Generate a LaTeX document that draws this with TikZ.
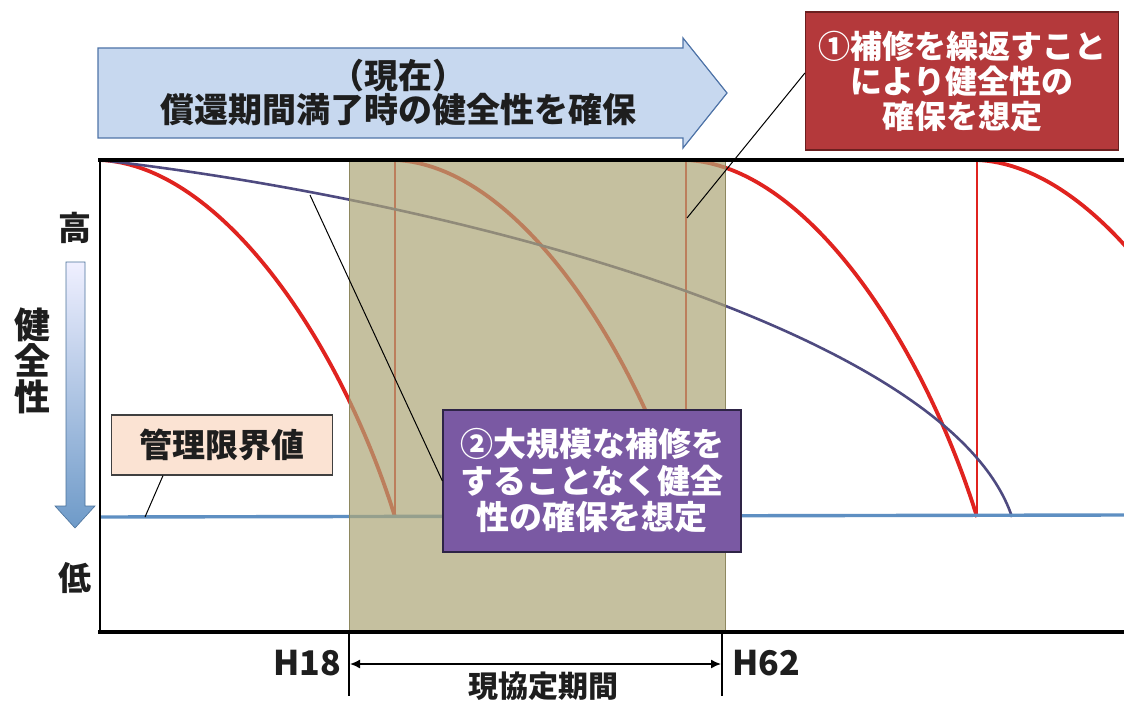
\documentclass[tikz,border=0pt]{standalone}
\usepackage{fontspec}
\newfontfamily\jp{Noto Sans CJK JP}
\usetikzlibrary{arrows.meta}
\definecolor{redline}{HTML}{E0231F}
\definecolor{purline}{HTML}{4E4A80}
\definecolor{limitc}{HTML}{5E8FC2}
\definecolor{shadec}{HTML}{ADA677}
\definecolor{shadeb}{HTML}{8E8860}
\definecolor{redboxc}{HTML}{B4393B}
\definecolor{redboxb}{HTML}{6B1F1F}
\definecolor{purboxc}{HTML}{7A59A3}
\definecolor{purboxb}{HTML}{2E2446}
\definecolor{limboxc}{HTML}{FBE3D3}
\definecolor{arrowc}{HTML}{C7D8EF}
\definecolor{arrowb}{HTML}{4F74A8}
\definecolor{textc}{HTML}{1E1E1E}
\tikzset{
  redc/.style={draw=redline, line width=3.8pt},
  redv/.style={draw=redline, line width=2.2pt},
  purc/.style={draw=purline, line width=2.6pt},
  limitl/.style={draw=limitc, line width=3.4pt},
  frame/.style={draw=black, line width=3.5pt},
  lead/.style={draw=black, line width=1pt},
  jtext/.style={font={\jp\bfseries\fontsize{33}{36}\selectfont}, text=textc, align=center, inner sep=0pt},
  redbox/.style={draw=redboxb, line width=1.2pt, fill=redboxc, text=white, font={\jp\bfseries\fontsize{32}{35}\selectfont}, align=center, minimum width=313pt, minimum height=138pt, inner sep=0pt},
  purbox/.style={draw=purboxb, line width=1.2pt, fill=purboxc, text=white, font={\jp\bfseries\fontsize{33}{36.5}\selectfont}, align=center, minimum width=298pt, minimum height=142pt, inner sep=0pt},
  limbox/.style={draw=black!75, line width=1.2pt, fill=limboxc, text=textc, font={\jp\bfseries\fontsize{33}{36}\selectfont}, minimum width=221pt, minimum height=60pt, inner sep=0pt},
  botlab/.style={font={\jp\bfseries\fontsize{34}{34}\selectfont}, text=textc, inner sep=0pt},
}
\begin{document}
\begin{tikzpicture}[x=1pt,y=-1pt]
\useasboundingbox (0,0) rectangle (1124,706);
\fill[white] (0,0) rectangle (1124,706);

% top arrow
\draw[fill=arrowc, draw=arrowb, line width=1.2pt] (98,48) -- (683,48) -- (683,38) -- (727,93) -- (683,148) -- (683,138) -- (98,138) -- cycle;
\node[jtext, font={\jp\bfseries\fontsize{34}{34}\selectfont}] (ta) at (398,92) {（現在）\\償還期間満了時の健全性を確保};

% curves
\begin{scope}
\clip (100,150) rectangle (1124,640);
\draw[redc] (100,160) .. controls (220,165) and (340,340) .. (395,517);
\draw[redv] (395,517) -- (395,158);
\draw[redc] (395,160) .. controls (514,165) and (632,340) .. (686,517);
\draw[redv] (686,517) -- (686,158);
\draw[redc] (686,160) .. controls (805,165) and (922,340) .. (977,517);
\draw[redv] (977,517) -- (977,158);
\draw[redc] (977,160) .. controls (1097,165) and (1217,340) .. (1272,517);
\draw[purc] (100,160) .. controls (450,200) and (950,330) .. (1012,517);
\end{scope}
\draw[limitl] (100,517) -- (1124,515);

% shaded period
\fill[shadec, fill opacity=0.7] (349,160) rectangle (725,632);
\draw[shadeb, line width=1pt] (349,160) rectangle (725,632);

% frame
\draw[frame] (98,160) -- (1124,160);
\draw[frame] (98,632) -- (1124,632);
\draw[black, line width=2pt] (100,160) -- (100,632);

% axis labels
\node[jtext] (hi) at (75,228) {高};
\node[jtext, font={\jp\bfseries\fontsize{36}{36}\selectfont}] (ax) at (32,361) {健\\全\\性};
\node[jtext] (lo) at (75,578) {低};
\shade[top color=blue!6, bottom color=limitc!90] (66,262) -- (85,262) -- (85,506) -- (95,506) -- (75,528) -- (55,506) -- (66,506) -- cycle;
\draw[limitc!80!black, line width=0.6pt] (66,262) -- (85,262) -- (85,506) -- (95,506) -- (75,528) -- (55,506) -- (66,506) -- cycle;

% boxes
\node[limbox] (lb) at (222,445) {管理限界値};
\coordinate (lc) at (145,517);
\draw[lead] ([xshift=-59pt]lb.south) -- (lc);

\node[purbox] (pb) at (592,481) {②大規模な補修を\\することなく健全\\性の確保を想定};
\coordinate (pc) at (310,195);
\draw[lead] (pb.west) -- (pc);

\node[redbox] (rb) at (962,81) {①補修を繰返すこと\\により健全性の\\確保を想定};
\coordinate (rc) at (687,218);
\draw[lead] ([yshift=8pt]rb.west) -- (rc);

% bottom period marker
\coordinate (t1a) at (349,632);
\coordinate (t1b) at (349,696);
\coordinate (t2a) at (722,632);
\coordinate (t2b) at (722,696);
\draw[black, line width=1.5pt] (t1a) -- (t1b);
\draw[black, line width=1.5pt] (t2a) -- (t2b);
\coordinate (m1) at (350,664);
\coordinate (m2) at (721,664);
\draw[black, line width=1.5pt, {Latex[length=10pt,width=9pt]}-{Latex[length=10pt,width=9pt]}] (m1) -- (m2);
\node[botlab, anchor=east] (h18) at (341,663) {H18};
\node[botlab, anchor=west] (h62) at (732,663) {H62};
\node[botlab, font={\jp\bfseries\fontsize{30}{30}\selectfont}] (per) at (543,686) {現協定期間};
\end{tikzpicture}
\end{document}
